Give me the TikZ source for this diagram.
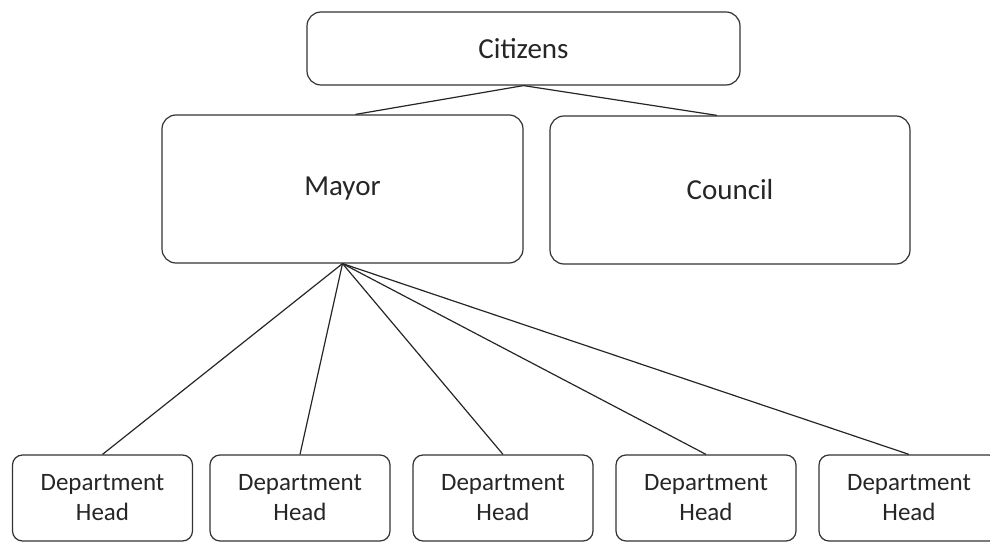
\documentclass[tikz,border=0pt]{standalone}
\usepackage{fontspec}
\setmainfont{Carlito}
\usepackage{tikz}
\tikzset{
    office-box/.style = {draw=black!80, fill=white, line width=0.6pt, rectangle, rounded corners=7pt, inner sep=2pt, font=\fontsize{14.5}{17}\selectfont, text=black!85},
    dept-box/.style = {draw=black!80, fill=white, line width=0.6pt, rectangle, rounded corners=5pt, inner sep=2pt, align=center, minimum width=90pt, minimum height=43pt, font=\fontsize{12.5}{15}\selectfont, text=black!85},
    link/.style = {draw=black!85, line width=0.6pt},
}

\begin{document}
\begin{tikzpicture}[x=0.5pt, y=-0.5pt]
\useasboundingbox (0,0) rectangle (990,545);
\node [office-box, minimum width=216.5pt, minimum height=36.5pt] (citizens) at (523.5,48.5) {Citizens};
\node [office-box, minimum width=180.5pt, minimum height=74pt] (mayor) at (342.5,189) {Mayor};
\node [office-box, minimum width=180pt, minimum height=74pt] (council) at (730,190) {Council};
\foreach \i/\x in {1/102.5, 2/300, 3/503, 4/706, 5/909}
    \node [dept-box] (dept\i) at (\x,498) {Department\\Head};
\draw [link] (citizens.south) -- ([xshift=6.5pt]mayor.north);
\draw [link] (citizens.south) -- ([xshift=-6.5pt]council.north);
\foreach \i in {1,...,5}
    \draw [link] (mayor.south) -- (dept\i.north);
\end{tikzpicture}
\end{document}
